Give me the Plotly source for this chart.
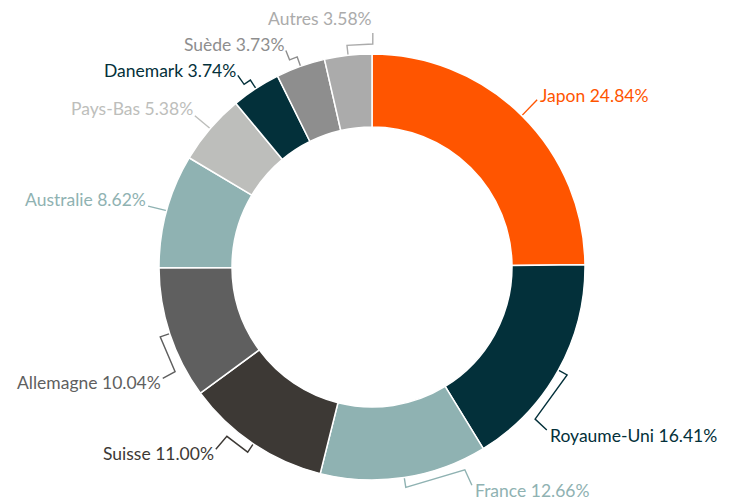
import math
import plotly.graph_objects as go

# ---- data ----
countries = ["Japon", "Royaume-Uni", "France", "Suisse", "Allemagne",
             "Australie", "Pays-Bas", "Danemark", "Suède", "Autres"]
weights = [24.84, 16.41, 12.66, 11.00, 10.04, 8.62, 5.38, 3.74, 3.73, 3.58]
colors = ["#FF5500", "#03303A", "#8FB2B2", "#3D3935", "#5F5F5F",
          "#8FB2B2", "#BDBEBB", "#03303A", "#8E8E8E", "#ABABAB"]

# ---- label layout (angle deg clockwise from top, radius px, text dy, anchor) ----
label_layout = [
    (44.65, 235, -4, "left"),
    (133.0, 239, 5, "left"),
    (155.4, 240, 5, "left"),
    (220.6, 240, 4, "right"),
    (242.0, 237, 4, "right"),
    (285.2, 232, -7, "right"),
    (310.5, 233, -7, "right"),
    (325.0, 234, -5, "right"),
    (338.3, 233, -6, "right"),
    (0.2, 234, -15, "right"),
]

W, H = 732, 502
OFF = 8  # page body margin offset of the figure inside the window
cx, cy, R = 372, 267, 213  # window pixel geometry
hole = 140 / 213

fig = go.Figure()

fx, fy = cx - OFF, cy - OFF
fig.add_trace(go.Pie(
    labels=countries, values=weights, sort=False, direction="clockwise",
    rotation=0, hole=hole, textinfo="none", hoverinfo="label+percent",
    marker=dict(colors=colors, line=dict(color="#FFFFFF", width=1.5)),
    domain=dict(x=[(fx - R) / W, (fx + R) / W],
                y=[(H - fy - R) / H, (H - fy + R) / H]),
    showlegend=False,
))


def pt(angle, r):
    a = math.radians(angle)
    return cx + r * math.sin(a), cy - r * math.cos(a)


total = sum(weights)
cum = 0.0
annotations = []
for name, v, col, (la, lr, dy, anchor) in zip(countries, weights, colors, label_layout):
    mid = (cum + v / 2) / total * 360
    cum += v
    e = pt(mid, R)
    p1 = pt(mid, R + 10)
    p2 = pt(la, R + 10)
    L = pt(la, lr)
    fig.add_trace(go.Scatter(
        x=[e[0], p1[0], p2[0], L[0]], y=[e[1], p1[1], p2[1], L[1]],
        mode="lines", line=dict(color=col, width=1.4),
        hoverinfo="skip", showlegend=False, xaxis="x", yaxis="y",
    ))
    annotations.append(dict(
        x=L[0] + (1 if anchor == "left" or name == "Autres" else 0),
        y=L[1] + dy, xref="x", yref="y",
        text=f"{name} {v:.2f}%", showarrow=False,
        xanchor=anchor, yanchor="middle",
        font=dict(family="Lato", size=17.5, color=col),
    ))

fig.update_layout(
    width=W, height=H, margin=dict(l=0, r=0, t=0, b=0),
    paper_bgcolor="white", plot_bgcolor="rgba(0,0,0,0)",
    xaxis=dict(range=[OFF, W + OFF], visible=False, fixedrange=True, domain=[0, 1]),
    yaxis=dict(range=[H + OFF, OFF], visible=False, fixedrange=True, domain=[0, 1]),
    annotations=annotations,
)

fig.write_html("out.html")
